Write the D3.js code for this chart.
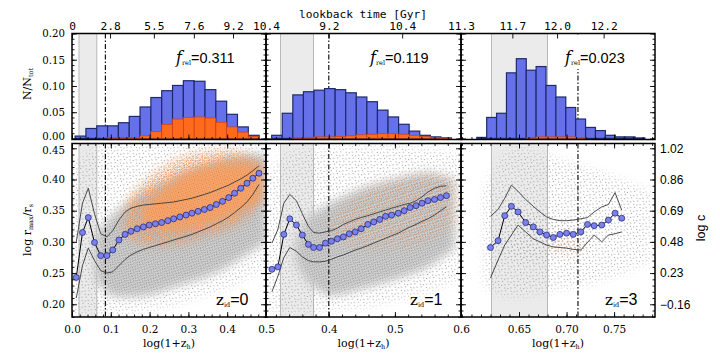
<!DOCTYPE html>
<html>
<head>
<meta charset="utf-8">
<script src="https://cdn.jsdelivr.net/npm/d3@7"></script>
<style>body{margin:0;background:#fff}</style>
</head>
<body>
<div id="app"></div>
<script>
// ---- data ----
const xDomains = [[0, 0.5], [0.305, 0.6], [0.589, 0.793]];
const zidLabels = ['0', '1', '3'];
const frelValues = ['0.311', '0.119', '0.023'];

// lookback-time ticks (position in log(1+z), label in Gyr)
const lbPos1 = [0, 0.098, 0.211, 0.314, 0.415, 0.5];
const lbLab1 = ['0', '2.8', '5.5', '7.6', '9.2', '10.4'];
const lbPos2 = [0.400, 0.511, 0.6];
const lbLab2 = ['9.2', '10.4', '11.3'];
const lbPos3 = [0.643, 0.690, 0.739];
const lbLab3 = ['11.7', '12.0', '12.2'];

// shaded band and dash-dot marker
const band1 = [0.018, 0.064], band2 = [0.327, 0.377], band3 = [0.621, 0.680];
const dashX = [0.086, 0.400, 0.712];

// histograms: first bin edge, bin width, fraction of all / relaxed
const hist1Start = 0.008, hist1Width = 0.0279;
const hist1All = [0.0045, 0.019, 0.024, 0.024, 0.030, 0.042, 0.060, 0.078, 0.091, 0.101, 0.110, 0.109, 0.093, 0.071, 0.046, 0.022, 0.006];
const hist1Rel = [0, 0, 0, 0.001, 0.001, 0.002, 0.005, 0.013, 0.027, 0.037, 0.040, 0.041, 0.039, 0.031, 0.022, 0.012, 0.004];
const hist2Start = 0.3136, hist2Width = 0.016;
const hist2All = [0.006, 0.048, 0.083, 0.089, 0.092, 0.095, 0.093, 0.087, 0.079, 0.070, 0.054, 0.041, 0.027, 0.014, 0.006, 0.003, 0.001];
const hist2Rel = [0, 0, 0.001, 0.002, 0.003, 0.003, 0.004, 0.005, 0.007, 0.008, 0.009, 0.009, 0.008, 0.006, 0.004, 0.002, 0.001];
const hist3Start = 0.6056, hist3Width = 0.0104;
const hist3All = [0.002, 0.040, 0.048, 0.125, 0.152, 0.130, 0.137, 0.101, 0.079, 0.059, 0.037, 0.021, 0.015, 0.006, 0.003, 0.003, 0.001];
const hist3Rel = [0, 0, 0, 0, 0, 0.001, 0.003, 0.003, 0.003, 0.003, 0.002, 0, 0, 0, 0, 0, 0];

// running median and 1-sigma lines
const med1X = [0.011, 0.027, 0.042, 0.058, 0.074, 0.090, 0.105, 0.121, 0.137, 0.152, 0.168, 0.184, 0.199, 0.215, 0.231, 0.247, 0.262, 0.278, 0.294, 0.309, 0.325, 0.341, 0.356, 0.372, 0.388, 0.404, 0.419, 0.435, 0.451, 0.466, 0.482];
const med1Y = [0.243, 0.315, 0.339, 0.299, 0.278, 0.278, 0.287, 0.303, 0.312, 0.317, 0.321, 0.324, 0.327, 0.329, 0.331, 0.334, 0.337, 0.340, 0.343, 0.346, 0.349, 0.352, 0.355, 0.360, 0.365, 0.371, 0.378, 0.386, 0.394, 0.402, 0.410];
const up1Y = [0.300, 0.362, 0.386, 0.345, 0.313, 0.308, 0.318, 0.335, 0.348, 0.354, 0.357, 0.359, 0.360, 0.361, 0.362, 0.363, 0.364, 0.366, 0.368, 0.370, 0.373, 0.376, 0.379, 0.383, 0.387, 0.391, 0.396, 0.401, 0.407, 0.414, 0.422];
const lo1Y = [0.210, 0.262, 0.290, 0.270, 0.254, 0.250, 0.252, 0.262, 0.272, 0.279, 0.284, 0.288, 0.291, 0.294, 0.297, 0.300, 0.303, 0.306, 0.309, 0.312, 0.316, 0.320, 0.324, 0.329, 0.334, 0.340, 0.347, 0.355, 0.364, 0.376, 0.392];

const med2X = [0.314, 0.323, 0.332, 0.341, 0.351, 0.360, 0.369, 0.377, 0.386, 0.395, 0.404, 0.413, 0.422, 0.431, 0.440, 0.449, 0.459, 0.468, 0.477, 0.486, 0.495, 0.505, 0.514, 0.523, 0.532, 0.541, 0.550, 0.560, 0.569, 0.578];
const med2Y = [0.256, 0.260, 0.312, 0.337, 0.327, 0.311, 0.296, 0.291, 0.291, 0.298, 0.301, 0.305, 0.308, 0.313, 0.316, 0.321, 0.328, 0.332, 0.336, 0.341, 0.343, 0.346, 0.350, 0.355, 0.358, 0.362, 0.366, 0.368, 0.371, 0.374];
const up2Y = [0.298, 0.320, 0.362, 0.376, 0.366, 0.345, 0.325, 0.315, 0.314, 0.316, 0.318, 0.322, 0.328, 0.332, 0.336, 0.339, 0.342, 0.345, 0.348, 0.351, 0.354, 0.357, 0.360, 0.362, 0.366, 0.372, 0.380, 0.386, 0.389, 0.390];
const lo2Y = [0.220, 0.245, 0.275, 0.291, 0.285, 0.276, 0.270, 0.268, 0.268, 0.269, 0.272, 0.276, 0.279, 0.283, 0.287, 0.290, 0.294, 0.298, 0.302, 0.306, 0.310, 0.314, 0.319, 0.324, 0.328, 0.333, 0.337, 0.343, 0.350, 0.356];

const med3X = [0.620, 0.628, 0.635, 0.642, 0.649, 0.657, 0.665, 0.672, 0.679, 0.686, 0.693, 0.700, 0.707, 0.715, 0.722, 0.729, 0.737, 0.744, 0.751, 0.758];
const med3Y = [0.291, 0.302, 0.342, 0.357, 0.348, 0.331, 0.324, 0.316, 0.311, 0.307, 0.312, 0.314, 0.312, 0.316, 0.328, 0.326, 0.327, 0.335, 0.346, 0.338];
const up3Y = [0.341, 0.352, 0.370, 0.391, 0.381, 0.368, 0.357, 0.348, 0.340, 0.336, 0.334, 0.334, 0.335, 0.337, 0.339, 0.348, 0.356, 0.360, 0.379, 0.351];
const lo3Y = [0.242, 0.271, 0.295, 0.311, 0.327, 0.316, 0.305, 0.300, 0.295, 0.292, 0.291, 0.290, 0.288, 0.287, 0.299, 0.311, 0.300, 0.311, 0.313, 0.316];

// outlines of the scatter clouds (all haloes, relaxed haloes)
const gOut1X = [0.0, 0.05, 0.1, 0.15, 0.2, 0.25, 0.3, 0.35, 0.4, 0.45, 0.5];
const gOut1Lo = [0.185, 0.185, 0.185, 0.185, 0.19, 0.195, 0.205, 0.215, 0.225, 0.24, 0.26];
const gOut1Hi = [0.42, 0.45, 0.457, 0.457, 0.457, 0.457, 0.457, 0.457, 0.457, 0.457, 0.45];
const gIn1X = [0.06, 0.1, 0.15, 0.2, 0.25, 0.3, 0.35, 0.4, 0.45, 0.5];
const gIn1Lo = [0.24, 0.215, 0.212, 0.215, 0.225, 0.235, 0.245, 0.26, 0.28, 0.30];
const gIn1Hi = [0.31, 0.34, 0.365, 0.385, 0.40, 0.415, 0.425, 0.435, 0.44, 0.44];
const or1X = [0.13, 0.15, 0.2, 0.25, 0.3, 0.35, 0.4, 0.45, 0.495];
const or1Lo = [0.325, 0.305, 0.295, 0.295, 0.30, 0.31, 0.32, 0.34, 0.37];
const or1Hi = [0.335, 0.37, 0.405, 0.425, 0.44, 0.445, 0.447, 0.44, 0.425];
const orC1X = [0.18, 0.25, 0.3, 0.35, 0.4, 0.45, 0.485];
const orC1Lo = [0.33, 0.32, 0.322, 0.33, 0.34, 0.355, 0.37];
const orC1Hi = [0.35, 0.39, 0.41, 0.42, 0.425, 0.425, 0.42];

const gOut2X = [0.305, 0.33, 0.37, 0.4, 0.45, 0.5, 0.55, 0.6];
const gOut2Lo = [0.19, 0.185, 0.185, 0.19, 0.195, 0.205, 0.22, 0.24];
const gOut2Hi = [0.40, 0.44, 0.45, 0.45, 0.455, 0.455, 0.45, 0.44];
const gIn2X = [0.35, 0.37, 0.4, 0.45, 0.5, 0.55, 0.59];
const gIn2Lo = [0.27, 0.235, 0.215, 0.225, 0.24, 0.26, 0.29];
const gIn2Hi = [0.30, 0.34, 0.36, 0.385, 0.40, 0.41, 0.40];
const or2X = [0.40, 0.45, 0.5, 0.55, 0.595];
const or2Lo = [0.31, 0.29, 0.29, 0.30, 0.33];
const or2Hi = [0.33, 0.38, 0.40, 0.41, 0.40];

const gOut3X = [0.612, 0.64, 0.68, 0.72, 0.76, 0.79];
const gOut3Lo = [0.23, 0.21, 0.22, 0.23, 0.25, 0.27];
const gOut3Hi = [0.38, 0.45, 0.44, 0.42, 0.40, 0.38];
const gIn3X = [0.635, 0.66, 0.68, 0.70, 0.725];
const gIn3Lo = [0.28, 0.27, 0.275, 0.28, 0.29];
const gIn3Hi = [0.33, 0.35, 0.34, 0.33, 0.32];
const or3X = [0.68, 0.70, 0.72];
const or3Lo = [0.285, 0.28, 0.29];
const or3Hi = [0.295, 0.305, 0.30];

// axis ticks
const xMajor1 = [0, 0.1, 0.2, 0.3, 0.4, 0.5], xLab1 = ['0.0', '0.1', '0.2', '0.3', '0.4', '0.5'];
const xMajor2 = [0.4, 0.5, 0.6], xLab2 = ['0.4', '0.5', '0.6'];
const xMajor3 = [0.65, 0.70, 0.75], xLab3 = ['0.65', '0.70', '0.75'];
const histTicks = [0, 0.05, 0.10, 0.15, 0.20];
const scatTicks = [0.20, 0.25, 0.30, 0.35, 0.40, 0.45];
const logcLabels = ['\u22120.16', '0.23', '0.48', '0.69', '0.86', '1.02'];

// ---- layout ----
const colX = [[72, 266], [266, 461], [461, 655]];
const yh = d3.scaleLinear().domain([-0.002, 0.2]).range([139.5, 33.5]);
const ys = d3.scaleLinear().domain([0.1796, 0.4577]).range([317, 143.5]);

const SERIF = 'DejaVu Serif', SANS = 'Liberation Sans', MONO = 'DejaVu Sans Mono';

const svg = d3.select('#app').append('svg')
  .attr('width', 720).attr('height', 360)
  .style('background', '#fff');

const defs = svg.append('defs');
function dotPattern(id, size, bg, color, dots) {
  const p = defs.append('pattern').attr('id', id)
    .attr('width', size).attr('height', size)
    .attr('patternUnits', 'userSpaceOnUse')
    .attr('patternTransform', 'rotate(27)');
  if (bg) p.append('rect').attr('width', size).attr('height', size).attr('fill', bg);
  dots.forEach(d => p.append('rect').attr('x', d[0]).attr('y', d[1]).attr('width', 1.1).attr('height', 1.1).attr('fill', color));
}
dotPattern('gSparse', 7, null, '#a2a2a2', [[1, 1], [4.5, 3], [2, 5], [6, 6]]);
dotPattern('gDense', 4, '#d2d2d2', '#9c9c9c', [[0, 0], [2, 1], [1, 3], [3, 2]]);
dotPattern('oSparse', 6, null, '#ef8a45', [[1, 2], [4, 4], [3, 0]]);
dotPattern('oDense', 4, null, '#f08a44', [[0, 1], [2, 0], [1, 2.5], [3, 3], [2.5, 2]]);
dotPattern('oCore', 3, '#f5ad78', '#ec7a30', [[0, 0], [1.5, 1.5]]);

// soft edge for the clouds
const soft = defs.append('filter').attr('id', 'soft')
  .attr('filterUnits', 'userSpaceOnUse').attr('x', 0).attr('y', 0).attr('width', 720).attr('height', 360);
soft.append('feGaussianBlur').attr('stdDeviation', 5);

const panels = [
  {dom: xDomains[0], lbPos: lbPos1, lbLab: lbLab1, band: band1,
   hist: {start: hist1Start, width: hist1Width, all: hist1All, rel: hist1Rel},
   x: med1X, med: med1Y, up: up1Y, lo: lo1Y, major: xMajor1, labs: xLab1, minorStep: 0.02,
   clouds: [{x: gOut1X, lo: gOut1Lo, hi: gOut1Hi, fill: 'url(#gSparse)'},
            {x: gIn1X, lo: gIn1Lo, hi: gIn1Hi, fill: 'url(#gDense)'},
            {x: or1X, lo: or1Lo, hi: or1Hi, fill: 'url(#oDense)'},
            {x: orC1X, lo: orC1Lo, hi: orC1Hi, fill: 'url(#oCore)'}]},
  {dom: xDomains[1], lbPos: lbPos2, lbLab: lbLab2, band: band2,
   hist: {start: hist2Start, width: hist2Width, all: hist2All, rel: hist2Rel},
   x: med2X, med: med2Y, up: up2Y, lo: lo2Y, major: xMajor2, labs: xLab2, minorStep: 0.02,
   clouds: [{x: gOut2X, lo: gOut2Lo, hi: gOut2Hi, fill: 'url(#gSparse)'},
            {x: gIn2X, lo: gIn2Lo, hi: gIn2Hi, fill: 'url(#gDense)'},
            {x: or2X, lo: or2Lo, hi: or2Hi, fill: 'url(#oSparse)'}]},
  {dom: xDomains[2], lbPos: lbPos3, lbLab: lbLab3, band: band3,
   hist: {start: hist3Start, width: hist3Width, all: hist3All, rel: hist3Rel},
   x: med3X, med: med3Y, up: up3Y, lo: lo3Y, major: xMajor3, labs: xLab3, minorStep: 0.01,
   clouds: [{x: gOut3X, lo: gOut3Lo, hi: gOut3Hi, fill: 'url(#gSparse)'},
            {x: gIn3X, lo: gIn3Lo, hi: gIn3Hi, fill: 'url(#gSparse)'},
            {x: or3X, lo: or3Lo, hi: or3Hi, fill: 'url(#oSparse)'}]}
];

function addAxis(g, axis, tr) {
  const a = g.append('g').attr('transform', tr).call(axis);
  a.select('.domain').remove();
  a.selectAll('line').attr('stroke', '#000').attr('stroke-width', 0.9);
  return a;
}

panels.forEach((p, i) => {
  const x = d3.scaleLinear().domain(p.dom).range(colX[i]);
  const [x0, x1] = colX[i];
  const g = svg.append('g');
  const minorX = d3.range(Math.ceil(p.dom[0] / p.minorStep) * p.minorStep, p.dom[1] + 1e-9, p.minorStep);

  // ---------- histogram panel ----------
  const hy0 = yh.range()[0], hy1 = yh.range()[1];
  g.append('rect').attr('x', x(p.band[0])).attr('y', hy1)
    .attr('width', x(p.band[1]) - x(p.band[0])).attr('height', hy0 - hy1)
    .attr('fill', '#ebebeb').attr('stroke', '#aaa').attr('stroke-width', 0.8);
  g.append('line').attr('x1', x(dashX[i])).attr('x2', x(dashX[i]))
    .attr('y1', hy1).attr('y2', hy0)
    .attr('stroke', '#000').attr('stroke-width', 1.1).attr('stroke-dasharray', '5,2,1.5,2');

  const h = p.hist;
  const bw = x(p.dom[0] + h.width) - x(p.dom[0]);
  g.selectAll(null).data(h.all).enter().append('rect')
    .attr('x', (d, k) => x(h.start + k * h.width)).attr('width', bw)
    .attr('y', d => yh(d)).attr('height', d => yh(0) - yh(d))
    .attr('fill', '#6670e8').attr('stroke', '#1d2b6e').attr('stroke-width', 1.2);
  g.selectAll(null).data(h.rel).enter().append('rect')
    .attr('x', (d, k) => x(h.start + k * h.width)).attr('width', bw)
    .attr('y', d => yh(d)).attr('height', d => Math.max(0, yh(0) - yh(d)))
    .attr('fill', '#ff6a1c').attr('stroke', '#c8401a').attr('stroke-width', 0.7)
    .attr('opacity', d => d > 0 ? 1 : 0);

  // f_rel label with white box over the dash-dot line
  const ft = g.append('text').attr('x', x0 + 104).attr('y', 63);
  ft.append('tspan').attr('font-family', SERIF).attr('font-style', 'italic').attr('font-size', 16).text('f');
  ft.append('tspan').attr('font-family', SERIF).attr('font-size', 6.5).attr('dy', 2).text('rel');
  ft.append('tspan').attr('font-family', SANS).attr('font-size', 14.5).attr('dy', -2).text('=' + frelValues[i]);
  const fb = ft.node().getBBox();
  g.insert('rect', 'text').attr('x', fb.x - 2).attr('y', hy1 + 1).attr('width', fb.width + 4)
    .attr('height', fb.y + fb.height + 2 - hy1 - 1).attr('fill', '#fff');

  // histogram axes
  addAxis(g, d3.axisBottom(x).tickValues(minorX).tickSize(-2.5).tickFormat(''), `translate(0,${hy0})`);
  addAxis(g, d3.axisBottom(x).tickValues(p.major).tickSize(-5).tickFormat(''), `translate(0,${hy0})`);
  const top = addAxis(g, d3.axisTop(x).tickValues(p.lbPos).tickSize(-5).tickPadding(4)
    .tickFormat(d => p.lbLab[p.lbPos.indexOf(d)]), `translate(0,${hy1})`);
  top.attr('font-family', MONO).attr('font-size', 11.2).selectAll('text').attr('fill', '#000');
  const hMinor = d3.range(0, 0.2001, 0.01);
  [[x0, d3.axisLeft], [x1, d3.axisRight]].forEach(([xx, ax]) => {
    addAxis(g, ax(yh).tickValues(hMinor).tickSize(-2.5).tickFormat(''), `translate(${xx},0)`);
    const a = addAxis(g, ax(yh).tickValues(histTicks).tickSize(-5).tickPadding(7)
      .tickFormat(i === 0 && ax === d3.axisLeft ? d3.format('.2f') : ''), `translate(${xx},0)`);
    a.attr('font-family', SERIF).attr('font-size', 10.2).selectAll('text').attr('fill', '#000');
    a.selectAll('text').filter(d => d === 0).attr('dy', '0.15em');
  });
  g.append('rect').attr('x', x0).attr('y', hy1).attr('width', x1 - x0).attr('height', hy0 - hy1)
    .attr('fill', 'none').attr('stroke', '#000').attr('stroke-width', 1.5);

  // ---------- scatter panel ----------
  const sy0 = ys.range()[0], sy1 = ys.range()[1];
  const clipId = 'clip' + i;
  defs.append('clipPath').attr('id', clipId).append('rect')
    .attr('x', x0).attr('y', sy1).attr('width', x1 - x0).attr('height', sy0 - sy1);
  const s = g.append('g').attr('clip-path', `url(#${clipId})`);

  s.append('rect').attr('x', x(p.band[0])).attr('y', sy1)
    .attr('width', x(p.band[1]) - x(p.band[0])).attr('height', sy0 - sy1)
    .attr('fill', '#ebebeb').attr('stroke', '#aaa').attr('stroke-width', 0.8);

  p.clouds.forEach((c, j) => {
    const area = d3.area().curve(d3.curveCatmullRom)
      .x((d, k) => x(c.x[k])).y0((d, k) => ys(c.lo[k])).y1((d, k) => ys(c.hi[k]));
    const mid = `m${i}_${j}`;
    defs.append('mask').attr('id', mid)
      .attr('maskUnits', 'userSpaceOnUse').attr('x', 0).attr('y', 0).attr('width', 720).attr('height', 360)
      .append('path').attr('d', area(c.x)).attr('fill', '#fff').attr('filter', 'url(#soft)');
    s.append('rect').attr('x', x0).attr('y', sy1).attr('width', x1 - x0).attr('height', sy0 - sy1)
      .attr('fill', c.fill).attr('mask', `url(#${mid})`);
  });

  s.append('line').attr('x1', x(dashX[i])).attr('x2', x(dashX[i]))
    .attr('y1', sy1).attr('y2', sy0)
    .attr('stroke', '#000').attr('stroke-width', 1.1).attr('stroke-dasharray', '5,2,1.5,2');

  const line = arr => d3.line().x((d, k) => x(p.x[k])).y((d, k) => ys(arr[k]))(arr);
  [p.up, p.lo].forEach(arr => s.append('path').attr('d', line(arr))
    .attr('fill', 'none').attr('stroke', '#3a3a3a').attr('stroke-width', 0.9));
  s.append('path').attr('d', line(p.med)).attr('fill', 'none').attr('stroke', '#000').attr('stroke-width', 1);
  s.selectAll(null).data(p.med).enter().append('circle')
    .attr('cx', (d, k) => x(p.x[k])).attr('cy', d => ys(d)).attr('r', 3)
    .attr('fill', '#7b80ea').attr('stroke', '#2a2f80').attr('stroke-width', 0.8);

  // z_id label
  const zt = g.append('text').attr('x', x0 + 144).attr('y', 305);
  zt.append('tspan').attr('font-family', SERIF).attr('font-size', 15).text('z');
  zt.append('tspan').attr('font-family', SERIF).attr('font-size', 6.5).attr('dy', 2).text('id');
  zt.append('tspan').attr('font-family', SANS).attr('font-size', 16).attr('dy', -2).text('=' + zidLabels[i]);

  // scatter axes
  addAxis(g, d3.axisTop(x).tickValues(minorX).tickSize(-2.5).tickFormat(''), `translate(0,${sy1})`);
  addAxis(g, d3.axisTop(x).tickValues(p.major).tickSize(-5).tickFormat(''), `translate(0,${sy1})`);
  addAxis(g, d3.axisBottom(x).tickValues(minorX).tickSize(-2.5).tickFormat(''), `translate(0,${sy0})`);
  const bot = addAxis(g, d3.axisBottom(x).tickValues(p.major).tickSize(-5).tickPadding(9)
    .tickFormat(d => p.labs[p.major.indexOf(d)]), `translate(0,${sy0})`);
  bot.attr('font-family', SERIF).attr('font-size', 10.5).selectAll('text').attr('fill', '#000');
  const sMinor = d3.range(0.18, 0.4577, 0.01);
  addAxis(g, d3.axisLeft(ys).tickValues(sMinor).tickSize(-2.5).tickFormat(''), `translate(${x0},0)`);
  const la = addAxis(g, d3.axisLeft(ys).tickValues(scatTicks).tickSize(-5).tickPadding(7)
    .tickFormat(i === 0 ? d3.format('.2f') : ''), `translate(${x0},0)`);
  la.attr('font-family', SERIF).attr('font-size', 10.2).selectAll('text').attr('fill', '#000');
  la.selectAll('text').filter(d => d === 0.45).attr('dy', '0.5em');
  addAxis(g, d3.axisRight(ys).tickValues(sMinor).tickSize(-2.5).tickFormat(''), `translate(${x1},0)`);
  const ra = addAxis(g, d3.axisRight(ys).tickValues(scatTicks).tickSize(-5).tickPadding(5)
    .tickFormat(i === 2 ? (d => logcLabels[scatTicks.indexOf(d)]) : ''), `translate(${x1},0)`);
  ra.attr('font-family', SANS).attr('font-size', 12).selectAll('text').attr('fill', '#000');
  g.append('rect').attr('x', x0).attr('y', sy1).attr('width', x1 - x0).attr('height', sy0 - sy1)
    .attr('fill', 'none').attr('stroke', '#000').attr('stroke-width', 1.5);

  // x title
  const xt = g.append('text').attr('x', (x0 + x1) / 2).attr('y', 347)
    .attr('text-anchor', 'middle').attr('font-family', SERIF).attr('font-size', 11);
  xt.append('tspan').text('log(1+z');
  xt.append('tspan').attr('font-size', 6.5).attr('dy', 2).text('h');
  xt.append('tspan').attr('dy', -2).text(')');
});

// titles
svg.append('text').attr('x', 363).attr('y', 18).attr('text-anchor', 'middle')
  .attr('font-family', MONO).attr('font-size', 11.2).text('lookback time [Gyr]');

const ny = svg.append('text').attr('transform', 'translate(31,84) rotate(-90)')
  .attr('text-anchor', 'middle').attr('font-family', SERIF).attr('font-size', 11);
ny.append('tspan').text('N/N');
ny.append('tspan').attr('font-size', 6.5).attr('dy', 2).text('tot');

const ry = svg.append('text').attr('transform', 'translate(31,230) rotate(-90)')
  .attr('text-anchor', 'middle').attr('font-family', SERIF).attr('font-size', 11);
ry.append('tspan').text('log r');
ry.append('tspan').attr('font-size', 6.5).attr('dy', 2).text('max');
ry.append('tspan').attr('dy', -2).text('/r');
ry.append('tspan').attr('font-size', 6.5).attr('dy', 2).text('s');

svg.append('text').attr('transform', 'translate(705,228) rotate(-90)')
  .attr('text-anchor', 'middle').attr('font-family', SANS).attr('font-size', 12.5).text('log c');
</script>
</body>
</html>
